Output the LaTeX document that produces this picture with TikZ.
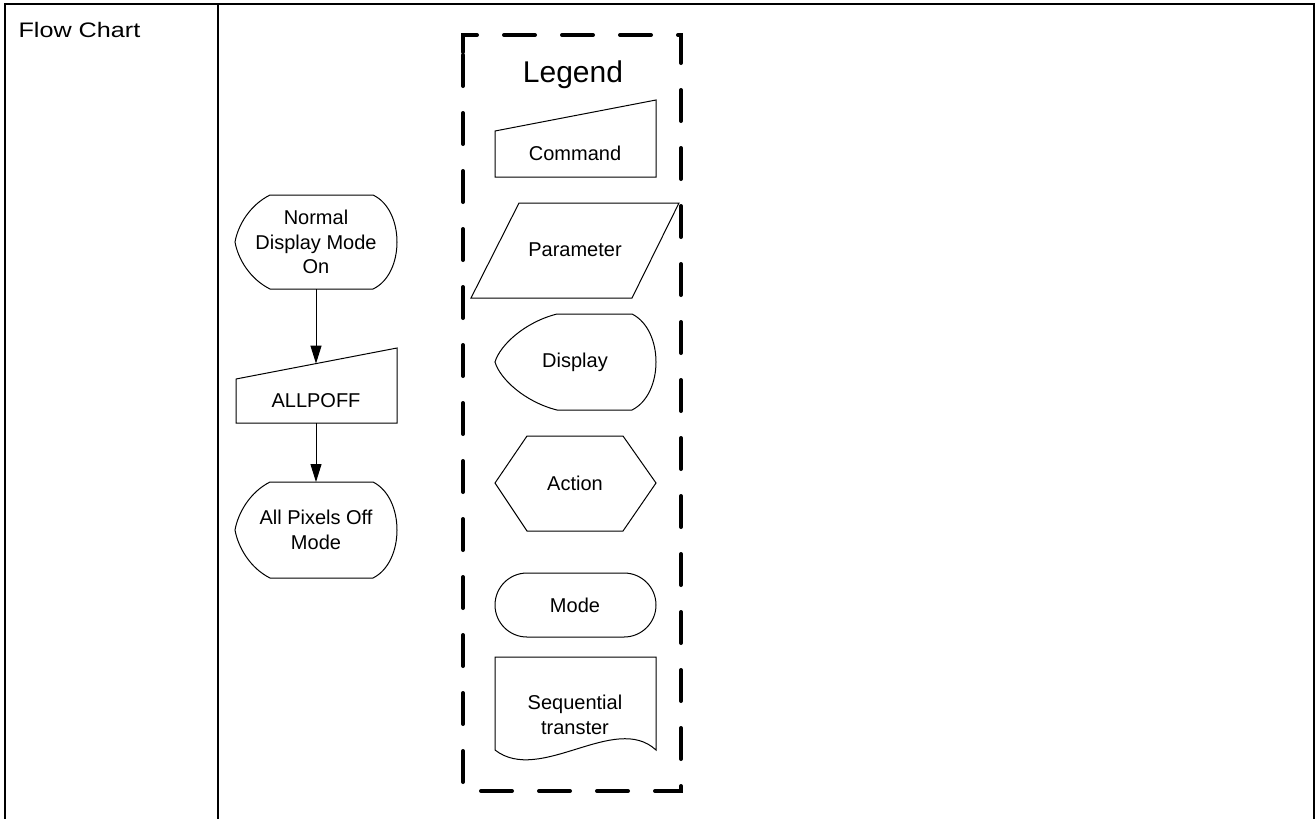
\documentclass[tikz,border=0pt]{standalone}
\usepackage{fontspec}
\setmainfont{Liberation Sans}
\usetikzlibrary{arrows.meta}
\begin{document}
\begin{tikzpicture}[x=0.75pt,y=-0.75pt,
  frame/.style={line width=1.5pt,line cap=rect},
  shp/.style={draw,line width=0.75pt,line join=miter},
  lbl/.style={font=\fontsize{15}{18.4}\selectfont,align=center,inner sep=0pt},
  conn/.style={line width=0.75pt,-{Triangle[length=13.5pt,width=8.25pt]}},
  legendbox/.style={line width=3pt,line cap=round,dash pattern=on 23.25pt off 20.25pt}]
\useasboundingbox (0,0) rectangle (1316,818);
% table frame
\draw[frame] (5,820) -- (5,4.3) -- (1314.3,4.3) -- (1314.3,820);
\draw[frame] (218.3,4.3) -- (218.3,820);
\node[anchor=base west,inner sep=0pt,font=\fontsize{15.75}{19}\selectfont] (title) at (18.3,37.7) {\scalebox{1.2}[1]{Flow Chart}};
% flow chart
\node[lbl] (n1) at (316,242) {Normal\\Display Mode\\On};
\draw[shp] (270,195) -- (373,195) .. controls (405,210) and (405,274) .. (373,289)
  -- (270,289) .. controls (250,279) and (238,259) .. (235,242)
  .. controls (238,225) and (250,205) .. (270,195) -- cycle;
\coordinate (n1b) at (316,289);
\node[lbl] (n2) at (316,401) {ALLPOFF};
\draw[shp] (236,379) -- (397,348) -- (397,423) -- (236,423) -- cycle;
\coordinate (n2t) at (316,363.6);
\coordinate (n2b) at (316,423);
\node[lbl] (n3) at (316,530) {All Pixels Off\\Mode};
\draw[shp] (270,482) -- (373,482) .. controls (405,498) and (405,562) .. (373,578)
  -- (270,578) .. controls (250,568) and (238,547) .. (235,530)
  .. controls (238,513) and (250,492) .. (270,482) -- cycle;
\coordinate (n3t) at (316,482);
\draw[conn] (n1b) -- (n2t);
\draw[conn] (n2b) -- (n3t);
% legend
\draw[legendbox] (463,52) -- (463,35) -- (681,35) -- (681,791) -- (463,791) -- cycle;
\node[inner sep=0pt,font=\fontsize{22.5}{27}\selectfont] (legend) at (573,75) {Legend};
\node[lbl] (cmd) at (575,153) {Command};
\draw[shp] (495,131) -- (656,100) -- (656,177) -- (495,177) -- cycle;
\node[lbl] (par) at (575,250) {Parameter};
\draw[shp] (519,203) -- (679,203) -- (632,298) -- (471,298) -- cycle;
\node[lbl] (disp) at (575,362) {Display};
\draw[shp] (557,314) -- (632,314) .. controls (664,330) and (664,394) .. (632,410)
  -- (557,410) .. controls (525,402) and (500,379) .. (495,362)
  .. controls (500,345) and (525,322) .. (557,314) -- cycle;
\node[lbl] (act) at (575,483) {Action};
\draw[shp] (527,436) -- (623,436) -- (656,483) -- (623,531) -- (527,531) -- (495,483) -- cycle;
\node[lbl] (mode) at (575,605) {Mode};
\draw[shp,rounded corners=24pt] (495,573) rectangle (656,637);
\node[lbl] (seq) at (575,715) {Sequential\\transter};
\draw[shp] (495,750) -- (495,657) -- (656,657) -- (656,750)
  .. controls (615,712) and (540,785) .. (495,750) -- cycle;
\end{tikzpicture}
\end{document}
